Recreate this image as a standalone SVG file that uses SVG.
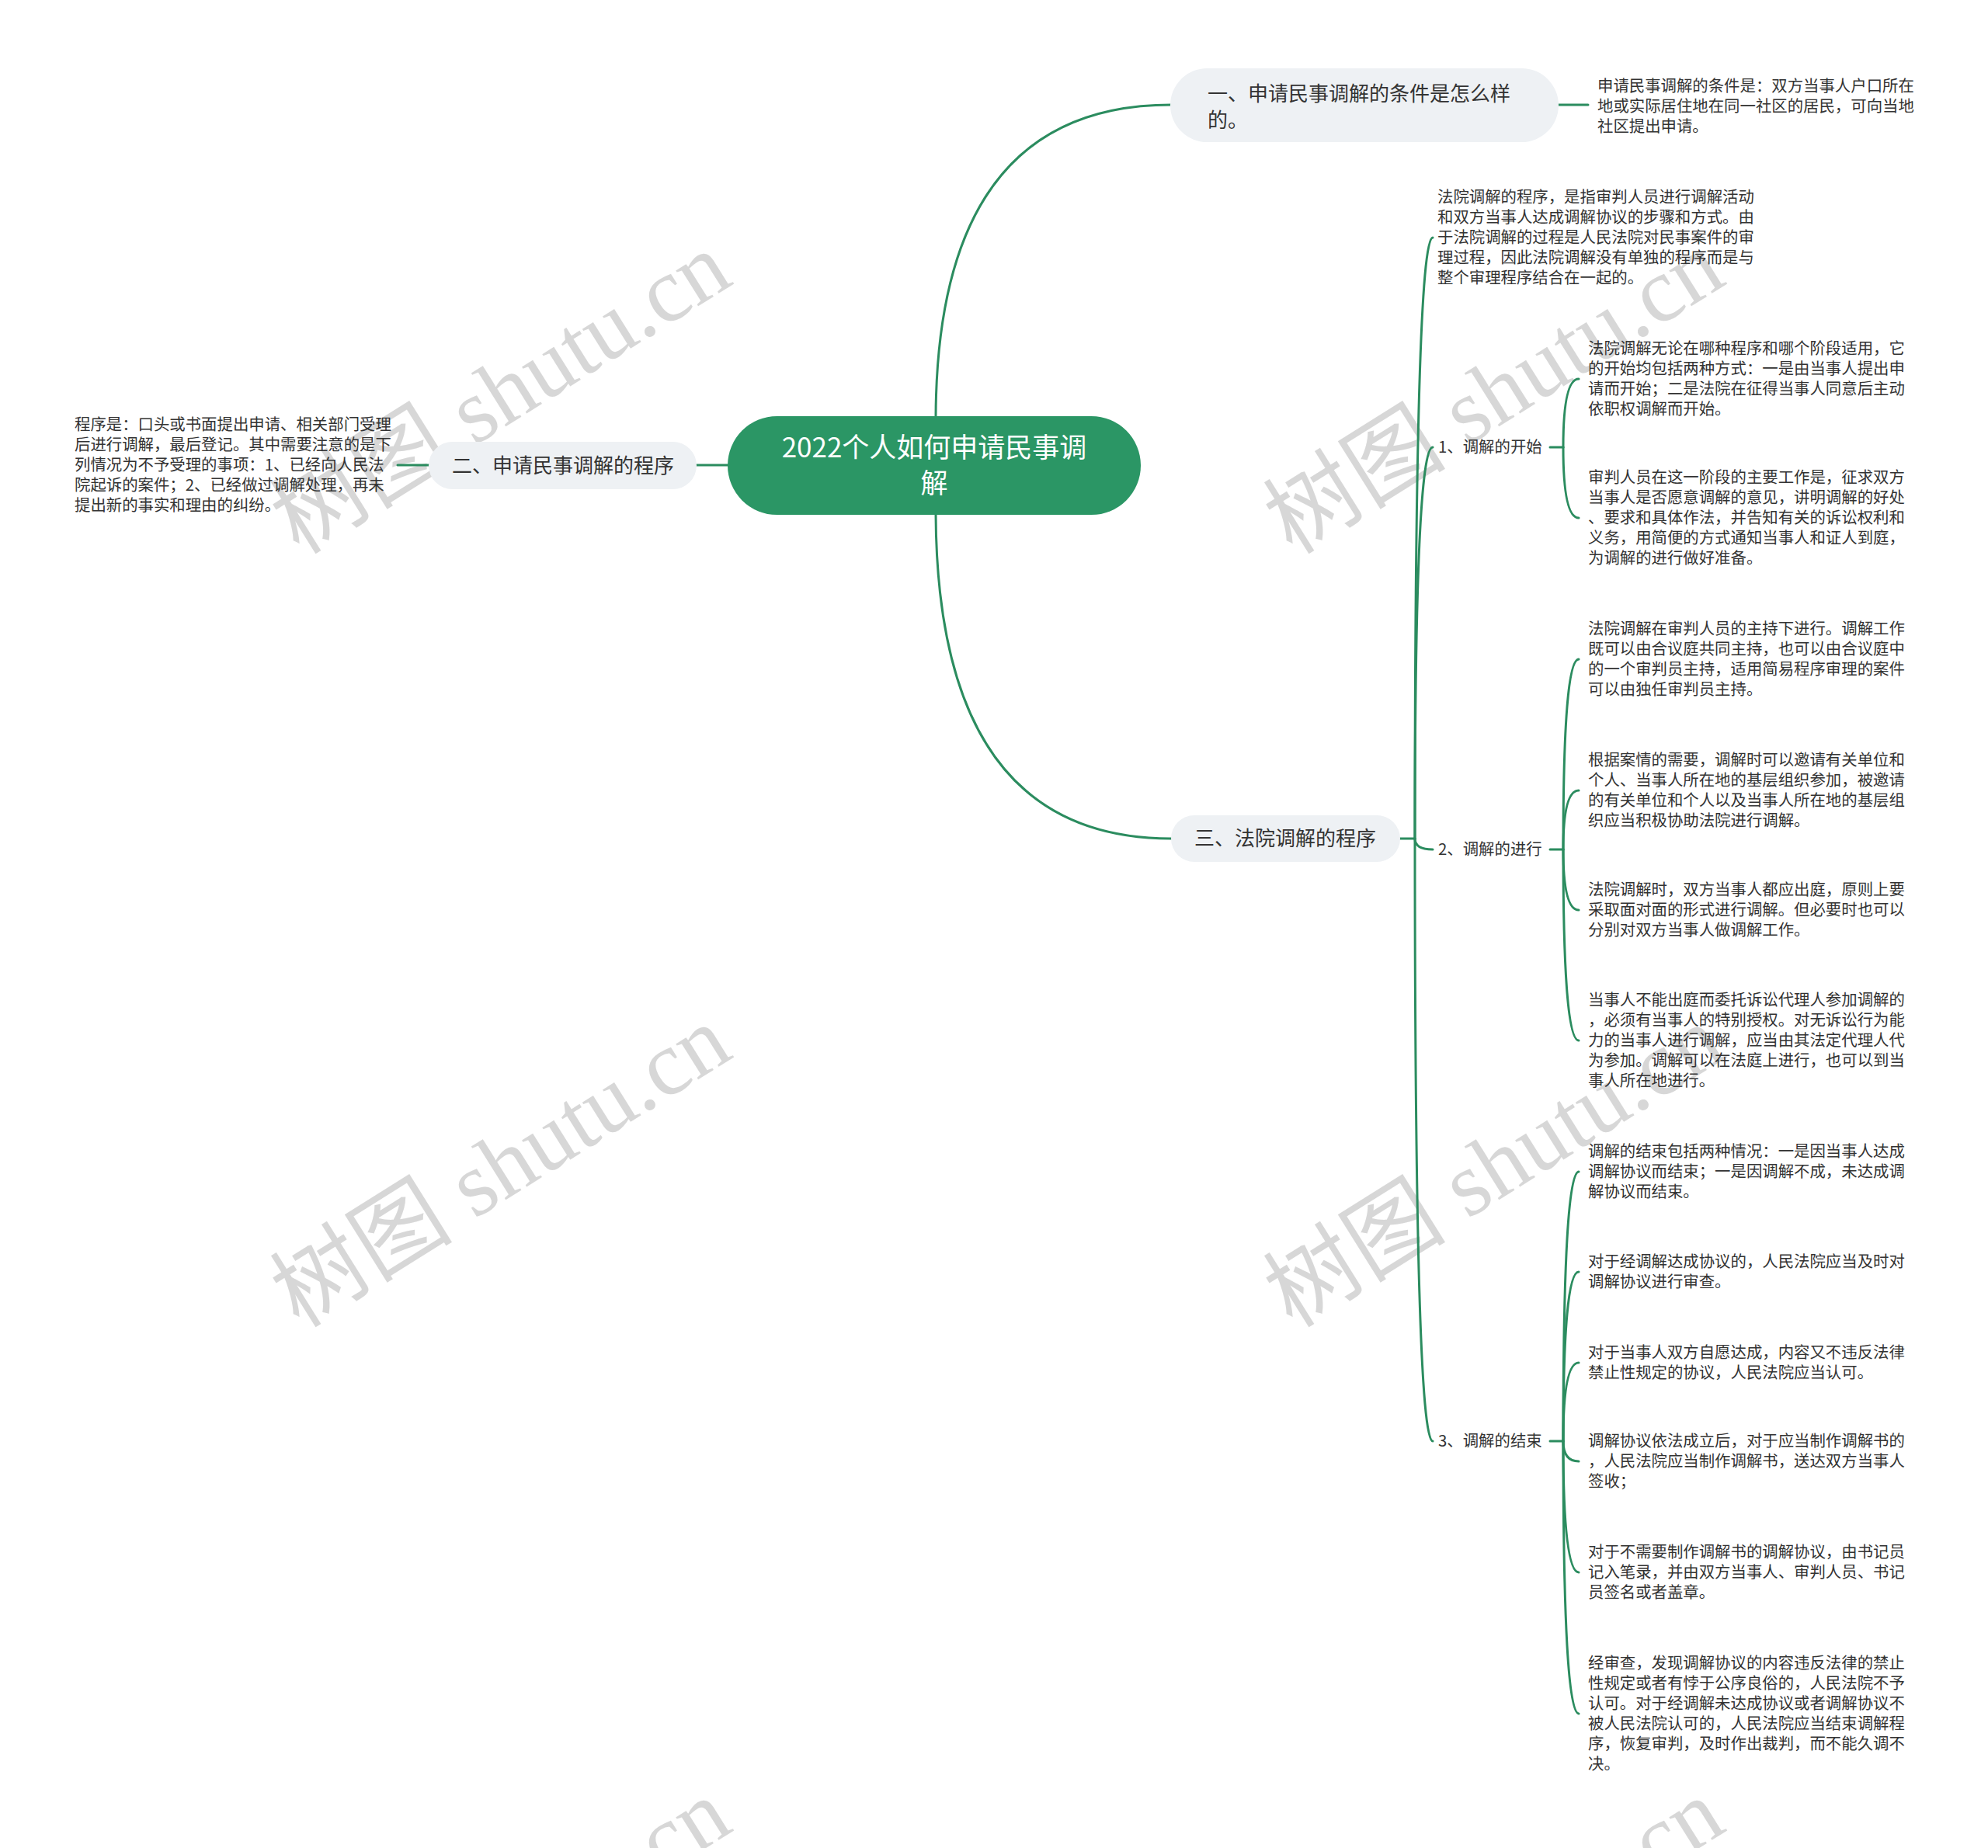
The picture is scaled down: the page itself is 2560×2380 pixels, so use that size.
<svg xmlns="http://www.w3.org/2000/svg" width="2560" height="2380" viewBox="0 0 2560 2380">
<style>
.bg{fill:#ffffff}
.wm{font-family:"Liberation Serif","Noto Sans CJK SC",serif;font-size:118px;fill:#c8c8c8;fill-opacity:0.72}
.c{fill:none;stroke:#2b8c5f;stroke-width:3;stroke-linecap:round}
.root{fill:#2b9665}
.rt{font-family:"Noto Sans CJK SC","Noto Sans",sans-serif;font-size:35px;fill:#ffffff;text-anchor:middle}
.b{fill:#eef1f4}
.bt{font-family:"Noto Sans CJK SC","Noto Sans",sans-serif;font-size:26px;fill:#333333}
.t{font-family:"Noto Sans CJK SC","Noto Sans",sans-serif;font-size:20.4px;fill:#333333}
</style>
<rect class="bg" x="0" y="0" width="2560" height="2380"/>
<g id="watermarks">
<text class="wm" text-anchor="middle" transform="translate(666,540) rotate(-32)">树图 shutu.cn</text>
<text class="wm" text-anchor="middle" transform="translate(1945,540) rotate(-32)">树图 shutu.cn</text>
<text class="wm" text-anchor="middle" transform="translate(666,1536) rotate(-32)">树图 shutu.cn</text>
<text class="wm" text-anchor="middle" transform="translate(1945,1536) rotate(-32)">树图 shutu.cn</text>
<text class="wm" text-anchor="middle" transform="translate(666,2532) rotate(-32)">树图 shutu.cn</text>
<text class="wm" text-anchor="middle" transform="translate(1945,2532) rotate(-32)">树图 shutu.cn</text>
</g>
<g id="connectors">
<path class="c" d="M1205 536 Q1207 135 1508 135"/>
<path class="c" d="M1205 662 Q1207 1080 1508 1080"/>
<path class="c" d="M937 599 L897 599"/>
<path class="c" d="M552 599 L512 599"/>
<path class="c" d="M2007 135 L2045 135"/>
<path class="c" d="M1803 1080 L1822 1080"/>
<path class="c" d="M1822 1080 Q1822 306 1845 306"/>
<path class="c" d="M1822 1080 Q1822 576 1845 576"/>
<path class="c" d="M1822 1080 Q1822 1094 1845 1094"/>
<path class="c" d="M1822 1080 Q1822 1856 1845 1856"/>
<path class="c" d="M1996 576 L2013 576"/>
<path class="c" d="M2013 576 Q2013 488 2033 488"/>
<path class="c" d="M2013 576 Q2013 667 2033 667"/>
<path class="c" d="M1996 1094 L2013 1094"/>
<path class="c" d="M2013 1094 Q2013 849 2033 849"/>
<path class="c" d="M2013 1094 Q2013 1018 2033 1018"/>
<path class="c" d="M2013 1094 Q2013 1172 2033 1172"/>
<path class="c" d="M2013 1094 Q2013 1340 2033 1340"/>
<path class="c" d="M1996 1856 L2013 1856"/>
<path class="c" d="M2013 1856 Q2013 1509 2033 1509"/>
<path class="c" d="M2013 1856 Q2013 1638 2033 1638"/>
<path class="c" d="M2013 1856 Q2013 1755 2033 1755"/>
<path class="c" d="M2013 1856 Q2013 1882 2033 1882"/>
<path class="c" d="M2013 1856 Q2013 2025 2033 2025"/>
<path class="c" d="M2013 1856 Q2013 2207 2033 2207"/>
</g>
<g id="root">
<rect class="root" x="937" y="536" width="532" height="127" rx="63.5"/>
<text class="rt" x="1203" y="589">2022个人如何申请民事调</text>
<text class="rt" x="1203" y="635">解</text>
</g>
<g id="branch1">
<rect class="b" x="1507" y="88" width="500" height="95" rx="47.5"/>
<text class="bt" x="1555" y="130">一、申请民事调解的条件是怎么样</text>
<text class="bt" x="1555" y="164">的。</text>
</g>
<g id="branch1-leaf">
<text class="t" x="2057" y="118">申请民事调解的条件是：双方当事人户口所在</text>
<text class="t" x="2057" y="144">地或实际居住地在同一社区的居民，可向当地</text>
<text class="t" x="2057" y="170">社区提出申请。</text>
</g>
<g id="branch2">
<rect class="b" x="552" y="569" width="345" height="61" rx="30.5"/>
<text class="bt" x="582" y="609">二、申请民事调解的程序</text>
</g>
<g id="branch2-leaf">
<text class="t" x="96" y="554">程序是：口头或书面提出申请、相关部门受理</text>
<text class="t" x="96" y="580">后进行调解，最后登记。其中需要注意的是下</text>
<text class="t" x="96" y="606">列情况为不予受理的事项：1、已经向人民法</text>
<text class="t" x="96" y="632">院起诉的案件；2、已经做过调解处理，再未</text>
<text class="t" x="96" y="658">提出新的事实和理由的纠纷。</text>
</g>
<g id="branch3">
<rect class="b" x="1508" y="1050" width="295" height="60" rx="30"/>
<text class="bt" x="1538" y="1089">三、法院调解的程序</text>
</g>
<g id="b3-intro">
<text class="t" x="1851" y="261">法院调解的程序，是指审判人员进行调解活动</text>
<text class="t" x="1851" y="287">和双方当事人达成调解协议的步骤和方式。由</text>
<text class="t" x="1851" y="313">于法院调解的过程是人民法院对民事案件的审</text>
<text class="t" x="1851" y="339">理过程，因此法院调解没有单独的程序而是与</text>
<text class="t" x="1851" y="365">整个审理程序结合在一起的。</text>
</g>
<g id="b3-s1"><text class="t" x="1852" y="583">1、调解的开始</text></g>
<g id="b3-s1-c1">
<text class="t" x="2045" y="456">法院调解无论在哪种程序和哪个阶段适用，它</text>
<text class="t" x="2045" y="482">的开始均包括两种方式：一是由当事人提出申</text>
<text class="t" x="2045" y="508">请而开始；二是法院在征得当事人同意后主动</text>
<text class="t" x="2045" y="534">依职权调解而开始。</text>
</g>
<g id="b3-s1-c2">
<text class="t" x="2045" y="622">审判人员在这一阶段的主要工作是，征求双方</text>
<text class="t" x="2045" y="648">当事人是否愿意调解的意见，讲明调解的好处</text>
<text class="t" x="2045" y="674">、要求和具体作法，并告知有关的诉讼权利和</text>
<text class="t" x="2045" y="700">义务，用简便的方式通知当事人和证人到庭，</text>
<text class="t" x="2045" y="726">为调解的进行做好准备。</text>
</g>
<g id="b3-s2"><text class="t" x="1852" y="1101">2、调解的进行</text></g>
<g id="b3-s2-c1">
<text class="t" x="2045" y="817">法院调解在审判人员的主持下进行。调解工作</text>
<text class="t" x="2045" y="843">既可以由合议庭共同主持，也可以由合议庭中</text>
<text class="t" x="2045" y="869">的一个审判员主持，适用简易程序审理的案件</text>
<text class="t" x="2045" y="895">可以由独任审判员主持。</text>
</g>
<g id="b3-s2-c2">
<text class="t" x="2045" y="986">根据案情的需要，调解时可以邀请有关单位和</text>
<text class="t" x="2045" y="1012">个人、当事人所在地的基层组织参加，被邀请</text>
<text class="t" x="2045" y="1038">的有关单位和个人以及当事人所在地的基层组</text>
<text class="t" x="2045" y="1064">织应当积极协助法院进行调解。</text>
</g>
<g id="b3-s2-c3">
<text class="t" x="2045" y="1153">法院调解时，双方当事人都应出庭，原则上要</text>
<text class="t" x="2045" y="1179">采取面对面的形式进行调解。但必要时也可以</text>
<text class="t" x="2045" y="1205">分别对双方当事人做调解工作。</text>
</g>
<g id="b3-s2-c4">
<text class="t" x="2045" y="1295">当事人不能出庭而委托诉讼代理人参加调解的</text>
<text class="t" x="2045" y="1321">，必须有当事人的特别授权。对无诉讼行为能</text>
<text class="t" x="2045" y="1347">力的当事人进行调解，应当由其法定代理人代</text>
<text class="t" x="2045" y="1373">为参加。调解可以在法庭上进行，也可以到当</text>
<text class="t" x="2045" y="1399">事人所在地进行。</text>
</g>
<g id="b3-s3"><text class="t" x="1852" y="1863">3、调解的结束</text></g>
<g id="b3-s3-c1">
<text class="t" x="2045" y="1490">调解的结束包括两种情况：一是因当事人达成</text>
<text class="t" x="2045" y="1516">调解协议而结束；一是因调解不成，未达成调</text>
<text class="t" x="2045" y="1542">解协议而结束。</text>
</g>
<g id="b3-s3-c2">
<text class="t" x="2045" y="1632">对于经调解达成协议的，人民法院应当及时对</text>
<text class="t" x="2045" y="1658">调解协议进行审查。</text>
</g>
<g id="b3-s3-c3">
<text class="t" x="2045" y="1749">对于当事人双方自愿达成，内容又不违反法律</text>
<text class="t" x="2045" y="1775">禁止性规定的协议，人民法院应当认可。</text>
</g>
<g id="b3-s3-c4">
<text class="t" x="2045" y="1863">调解协议依法成立后，对于应当制作调解书的</text>
<text class="t" x="2045" y="1889">，人民法院应当制作调解书，送达双方当事人</text>
<text class="t" x="2045" y="1915">签收；</text>
</g>
<g id="b3-s3-c5">
<text class="t" x="2045" y="2006">对于不需要制作调解书的调解协议，由书记员</text>
<text class="t" x="2045" y="2032">记入笔录，并由双方当事人、审判人员、书记</text>
<text class="t" x="2045" y="2058">员签名或者盖章。</text>
</g>
<g id="b3-s3-c6">
<text class="t" x="2045" y="2149">经审查，发现调解协议的内容违反法律的禁止</text>
<text class="t" x="2045" y="2175">性规定或者有悖于公序良俗的，人民法院不予</text>
<text class="t" x="2045" y="2201">认可。对于经调解未达成协议或者调解协议不</text>
<text class="t" x="2045" y="2227">被人民法院认可的，人民法院应当结束调解程</text>
<text class="t" x="2045" y="2253">序，恢复审判，及时作出裁判，而不能久调不</text>
<text class="t" x="2045" y="2279">决。</text>
</g>
</svg>
